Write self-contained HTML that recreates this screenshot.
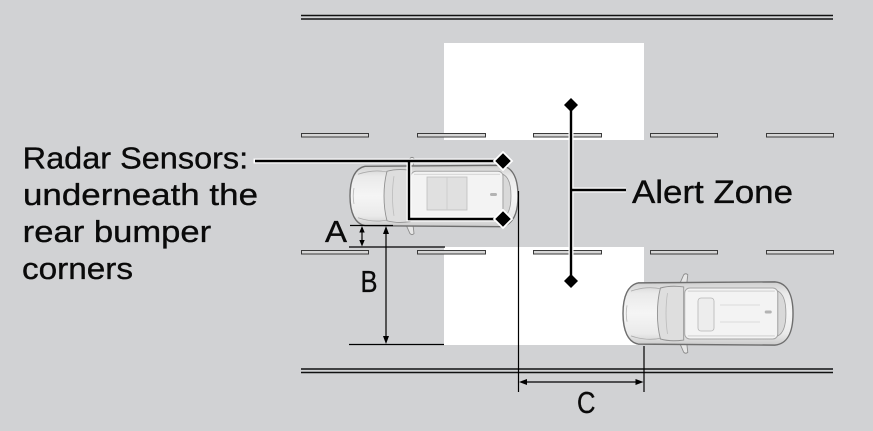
<!DOCTYPE html>
<html>
<head>
<meta charset="utf-8">
<style>
  html,body{margin:0;padding:0;background:#d1d2d4;}
  svg{display:block;}
  text{font-family:"Liberation Sans", Arial, sans-serif; fill:#0a0a0a; stroke:#0a0a0a; stroke-width:0.35;}
</style>
</head>
<body>
<svg width="873" height="431" viewBox="0 0 873 431" xmlns="http://www.w3.org/2000/svg">
  <defs>
    <linearGradient id="bodyg" x1="0" y1="0" x2="0" y2="1">
      <stop offset="0" stop-color="#cfcfcf"/>
      <stop offset="0.18" stop-color="#eaeaea"/>
      <stop offset="0.5" stop-color="#f5f5f5"/>
      <stop offset="0.82" stop-color="#eaeaea"/>
      <stop offset="1" stop-color="#cbcbcb"/>
    </linearGradient>
    <g id="car">
      <!-- mirrors -->
      <path d="M56,-29 L60,-38 Q62,-40 64,-38 L63,-29 Z" fill="#e6e6e6" stroke="#8c8c8c" stroke-width="0.9"/>
      <path d="M56,29 L60,38 Q62,40 64,38 L63,29 Z" fill="#e6e6e6" stroke="#8c8c8c" stroke-width="0.9"/>
      <!-- body -->
      <path d="M15,-30 C5,-28 0,-17 0,0 C0,17 5,28 15,30 L150,31 C162,30 168,19 168,0 C168,-19 162,-30 150,-31 Z" fill="url(#bodyg)" stroke="#6e6e6e" stroke-width="1.4"/>
      <!-- hood lines -->
      <path d="M8,-22 C20,-26 30,-26 38,-24" fill="none" stroke="#ababab" stroke-width="0.8"/>
      <path d="M8,22 C20,26 30,26 38,24" fill="none" stroke="#ababab" stroke-width="0.8"/>
      <path d="M4,-8 C3,-3 3,3 4,8" fill="none" stroke="#b5b5b5" stroke-width="0.8"/>
      <!-- windshield -->
      <path d="M37,-25 C44,-27 53,-27 60,-26 L60,26 C53,27 44,27 37,25 C33,10 33,-10 37,-25 Z" fill="#dedede" stroke="#929292" stroke-width="0.9"/>
      <path d="M44,-20 C42,-8 42,8 44,20" fill="none" stroke="#bcbcbc" stroke-width="0.8"/>
      <!-- roof -->
      <rect x="61" y="-25" width="92" height="50" rx="5" fill="#f3f3f3" stroke="#a5a5a5" stroke-width="0.9"/>
      <line x1="64" y1="-22" x2="150" y2="-22" stroke="#cacaca" stroke-width="0.8"/>
      <line x1="64" y1="22" x2="150" y2="22" stroke="#cacaca" stroke-width="0.8"/>
      <!-- rear window -->
      <path d="M153,-22 C159,-19 161,-10 161,0 C161,10 159,19 153,22 Z" fill="#d9d9d9" stroke="#989898" stroke-width="0.8"/>
      <rect x="140" y="-3" width="7" height="3" rx="1.5" fill="#b3b3b3"/>
    </g>
  </defs>

  <rect x="0" y="0" width="873" height="431" fill="#d1d2d4"/>

  <!-- white zones -->
  <rect x="444" y="43" width="200" height="97" fill="#ffffff"/>
  <rect x="444" y="247" width="200" height="98" fill="#ffffff"/>

  <!-- road edges -->
  <line x1="301" y1="15.5" x2="833" y2="15.5" stroke="#111" stroke-width="1.4"/>
  <line x1="301" y1="19" x2="833" y2="19" stroke="#111" stroke-width="1.4"/>
  <line x1="301" y1="369" x2="833" y2="369" stroke="#111" stroke-width="1.4"/>
  <line x1="301" y1="372.5" x2="833" y2="372.5" stroke="#111" stroke-width="1.4"/>

  <!-- lane dashes -->
  <g fill="#d6d6d6" stroke="#3a3a3a" stroke-width="1">
    <rect x="301.5" y="133.5" width="67" height="3.5"/>
    <rect x="417.5" y="133.5" width="68" height="3.5"/>
    <rect x="533.5" y="133.5" width="68" height="3.5"/>
    <rect x="650.5" y="133.5" width="67" height="3.5"/>
    <rect x="766.5" y="133.5" width="67" height="3.5"/>
    <rect x="301.5" y="250.5" width="67" height="3.5"/>
    <rect x="417.5" y="250.5" width="68" height="3.5"/>
    <rect x="533.5" y="250.5" width="68" height="3.5"/>
    <rect x="650.5" y="250.5" width="67" height="3.5"/>
    <rect x="766.5" y="250.5" width="67" height="3.5"/>
  </g>

  <!-- cars -->
  <use href="#car" transform="translate(350,196) scale(1,0.99)"/>
  <rect x="427" y="177" width="40" height="33" fill="#e0e0e0" stroke="#bebebe" stroke-width="0.8"/>
  <line x1="447" y1="177" x2="447" y2="210" stroke="#cacaca" stroke-width="0.8"/>
  <use href="#car" transform="translate(623,313.5) scale(1.012,1.02)"/>
  <rect x="698" y="298" width="16" height="33" rx="3" fill="#ededed" stroke="#b6b6b6" stroke-width="0.8"/>
  <line x1="720" y1="305" x2="760" y2="305" stroke="#d3d3d3" stroke-width="0.8"/>
  <line x1="720" y1="322" x2="760" y2="322" stroke="#d3d3d3" stroke-width="0.8"/>

  <!-- Radar sensor callout -->
  <g fill="none" stroke="#ffffff" stroke-width="5" stroke-linecap="square">
    <path d="M256,161 L503,161 M409,161 L409,219 L503,219"/>
  </g>
  <g fill="none" stroke="#000" stroke-width="2.4">
    <path d="M255,161 L503,161 M409,161 L409,219 L503,219"/>
  </g>
  <polygon points="503,152 512,161 503,170 494,161" fill="#000" stroke="#fff" stroke-width="1.8"/>
  <polygon points="503,210 512,219 503,228 494,219" fill="#000" stroke="#fff" stroke-width="1.8"/>

  <!-- Alert zone line -->
  <g fill="none" stroke="#ffffff" stroke-width="5">
    <path d="M571,105 L571,281 M571,190 L626,190"/>
  </g>
  <g fill="none" stroke="#000" stroke-width="2.4">
    <path d="M571,105 L571,281 M571,190 L626,190"/>
  </g>
  <polygon points="571,98 578,105 571,112 564,105" fill="#000"/>
  <polygon points="571,274 578,281 571,288 564,281" fill="#000"/>

  <!-- dimension A / B / C -->
  <g stroke="#000" stroke-width="1.2" fill="none">
    <line x1="350" y1="225.5" x2="393" y2="225.5"/>
    <line x1="349" y1="247" x2="445" y2="247"/>
    <line x1="362" y1="230" x2="362" y2="243"/>
    <line x1="386" y1="230" x2="386" y2="340"/>
    <line x1="349" y1="344.5" x2="444" y2="344.5"/>
    <line x1="518.5" y1="191" x2="518.5" y2="392"/>
    <line x1="644" y1="346" x2="644" y2="392"/>
    <line x1="523" y1="382" x2="639" y2="382"/>
  </g>
  <g fill="#000">
    <polygon points="362,226 359.3,232.5 364.7,232.5"/>
    <polygon points="362,246.5 359.3,240 364.7,240"/>
    <polygon points="386,226 383,234 389,234"/>
    <polygon points="386,344 383,336 389,336"/>
    <polygon points="519,382 527,379 527,385"/>
    <polygon points="643.5,382 635.5,379 635.5,385"/>
  </g>

  <!-- labels -->
  <text x="22.7" y="168.5" font-size="31" textLength="225.5" lengthAdjust="spacingAndGlyphs">Radar Sensors:</text>
  <text x="23" y="205" font-size="31" textLength="235" lengthAdjust="spacingAndGlyphs">underneath the</text>
  <text x="22.7" y="242" font-size="31" textLength="188.5" lengthAdjust="spacingAndGlyphs">rear bumper</text>
  <text x="22" y="279" font-size="31" textLength="111" lengthAdjust="spacingAndGlyphs">corners</text>
  <text x="632" y="203" font-size="32" textLength="161" lengthAdjust="spacingAndGlyphs">Alert Zone</text>
  <text x="325" y="242" font-size="31" textLength="22" lengthAdjust="spacingAndGlyphs">A</text>
  <text x="360.5" y="292" font-size="31" textLength="17" lengthAdjust="spacingAndGlyphs">B</text>
  <text x="577" y="413" font-size="31" textLength="18.5" lengthAdjust="spacingAndGlyphs">C</text>
</svg>
</body>
</html>
